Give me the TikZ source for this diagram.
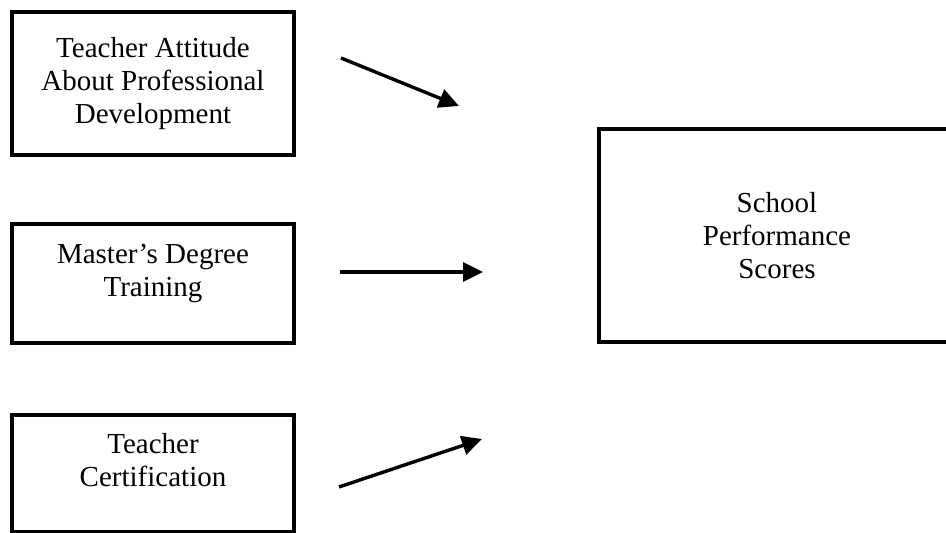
\documentclass[tikz,border=0pt]{standalone}
\usepackage{fontspec}
\setmainfont{Liberation Serif}
\usetikzlibrary{arrows.meta,positioning}

\begin{document}
\begin{tikzpicture}[
    x=1pt, y=-1pt,
    box/.style={rectangle, draw, line width=3.2pt, minimum width=282pt, align=center, inner sep=0pt, outer sep=0pt, font=\fontsize{29}{33}\selectfont},
    lowbox/.style={box, text depth=27pt},
    arrow/.style={-{Triangle[length=20pt, width=19pt]}, line width=3.4pt}
]
    \useasboundingbox (0,0) rectangle (946,533);

    % Predictors
    \node[box, minimum height=143pt, anchor=north west] (attitude) at (12,12) {Teacher Attitude\\About Professional\\Development};
    \node[lowbox, minimum height=119pt, below=69pt of attitude] (masters) {Master's Degree\\Training};
    \node[lowbox, minimum height=117pt, below=72pt of masters] (cert) {Teacher\\Certification};

    % Outcome
    \node[box, minimum width=356pt, minimum height=213pt, anchor=north west] (scores) at (599,129) {School\\Performance\\Scores};

    % Arrow ends
    \coordinate (attitude-out) at (341,58);
    \coordinate (attitude-in) at (459,106);
    \coordinate (masters-out) at (340,272);
    \coordinate (masters-in) at (483,272);
    \coordinate (cert-out) at (339,487);
    \coordinate (cert-in) at (482,439);

    % Arrows
    \draw[arrow] (attitude-out) -- (attitude-in);
    \draw[arrow] (masters-out) -- (masters-in);
    \draw[arrow] (cert-out) -- (cert-in);

\end{tikzpicture}
\end{document}
